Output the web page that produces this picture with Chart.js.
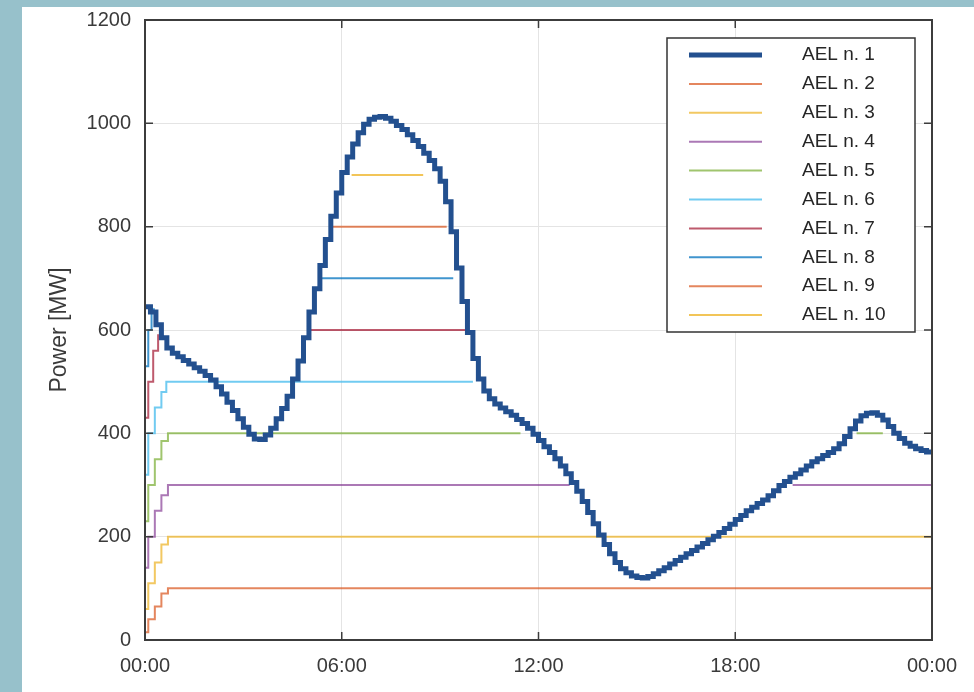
<!DOCTYPE html>
<html><head><meta charset="utf-8">
<script src="https://cdn.jsdelivr.net/npm/chart.js@4.4.1/dist/chart.umd.min.js"></script>
<style>
html,body{margin:0;padding:0;background:#97c1cb;width:974px;height:692px;overflow:hidden}
#panel{position:absolute;left:22px;top:7px;width:952px;height:685px;background:#fff}
canvas{display:block}
</style></head><body>
<div id="panel"><canvas id="c" width="952" height="685"></canvas></div>
<script>
// ---- data (minutes of day, MW) ----
const ael1Minutes = [0,10,20,30,40,50,60,70,80,90,100,110,120,130,140,150,160,170,180,190,200,210,220,230,240,250,260,270,280,290,300,310,320,330,340,350,360,370,380,390,400,410,420,430,440,450,460,470,480,490,500,510,520,530,540,550,560,570,580,590,600,610,620,630,640,650,660,670,680,690,700,710,720,730,740,750,760,770,780,790,800,810,820,830,840,850,860,870,880,890,900,910,920,930,940,950,960,970,980,990,1000,1010,1020,1030,1040,1050,1060,1070,1080,1090,1100,1110,1120,1130,1140,1150,1160,1170,1180,1190,1200,1210,1220,1230,1240,1250,1260,1270,1280,1290,1300,1310,1320,1330,1340,1350,1360,1370,1380,1390,1400,1410,1420,1430,1440];
const ael1Power = [645,635,610,585,565,555,548,541,534,527,520,512,503,490,476,460,444,428,412,398,389,388,397,410,428,448,472,505,540,585,635,680,725,775,820,865,905,935,960,982,998,1008,1012,1013,1010,1004,996,988,978,967,955,942,928,912,888,848,790,720,655,595,545,505,482,467,457,449,442,435,427,419,410,398,386,374,363,351,337,322,305,288,268,247,225,203,185,167,150,138,130,124,121,120,123,128,134,140,147,154,160,167,173,180,187,194,201,208,216,224,233,241,250,257,264,271,279,289,299,307,315,322,329,337,345,351,357,363,370,380,394,409,424,434,439,440,435,426,413,400,390,381,375,370,367,364,362];

// other units: [minute, MW] points, null = unit off
const ael2 = [[0,15],[6,40],[18,65],[30,90],[42,100],[1440,100]];
const ael3 = [[0,60],[6,110],[18,150],[30,185],[42,200],[1440,200]];
const ael4 = [[0,140],[6,200],[18,250],[30,280],[42,300],[777,300],[780,null],[1185,300],[1440,300]];
const ael5 = [[0,230],[6,300],[18,350],[30,385],[42,400],[687,400],[690,null],[1302,400],[1350,400]];
const ael6 = [[0,320],[6,400],[18,450],[30,480],[39,500],[600,500]];
const ael7 = [[0,430],[6,500],[15,560],[24,590],[30,590],[33,null],[298,600],[589,600]];
const ael8 = [[0,530],[6,600],[12,640],[18,640],[21,null],[322,700],[564,700]];
const ael9 = [[344,800],[552,800]];
const ael10 = [[378,900],[509,900]];

const seriesLabels = ['AEL n. 1','AEL n. 2','AEL n. 3','AEL n. 4','AEL n. 5','AEL n. 6','AEL n. 7','AEL n. 8','AEL n. 9','AEL n. 10'];
const xTickMinutes = [0,360,720,1080,1440];
const xTickLabels = ['00:00','06:00','12:00','18:00','00:00'];
const yTickValues = [0,200,400,600,800,1000,1200];

// ---- styles ----
const colors = ['#23508f','rgba(217,83,25,0.7)','rgba(237,177,32,0.7)','rgba(126,47,142,0.65)','rgba(119,172,48,0.7)','rgba(77,190,238,0.8)','rgba(162,20,47,0.7)','rgba(0,114,189,0.75)','rgba(217,83,25,0.7)','rgba(237,177,32,0.75)'];
const FF = "'Liberation Sans', Arial, sans-serif";
const FONT = {family:FF, size:20};
const TXT = '#3a3a3a';

const toPts = arr => arr.map(p => ({x:p[0], y:p[1]}));
const others = [ael2,ael3,ael4,ael5,ael6,ael7,ael8,ael9,ael10];
const datasets = [{
  label: seriesLabels[0],
  data: ael1Minutes.map((m,i)=>({x:m,y:ael1Power[i]})),
  borderColor: colors[0], borderWidth: 5, stepped: true, pointRadius:0
}].concat(others.map((a,i)=>({
  label: seriesLabels[i+1], data: toPts(a), borderColor: colors[i+1], borderWidth: 2,
  stepped: true, pointRadius: 0, spanGaps: false
})));

const boxPlugin = {
  id:'box',
  afterDraw(chart){
    const {ctx, chartArea:a, scales:{x,y}} = chart;
    ctx.save();
    ctx.strokeStyle = '#3c3c3c'; ctx.lineWidth = 2;
    ctx.strokeRect(a.left, a.top, a.right-a.left, a.bottom-a.top);
    ctx.lineWidth = 1.5;
    ctx.beginPath();
    x.ticks.forEach(t=>{const px=x.getPixelForValue(t.value);
      ctx.moveTo(px,a.bottom); ctx.lineTo(px,a.bottom-8);
      ctx.moveTo(px,a.top); ctx.lineTo(px,a.top+8);});
    y.ticks.forEach(t=>{const py=y.getPixelForValue(t.value);
      ctx.moveTo(a.left,py); ctx.lineTo(a.left+8,py);
      ctx.moveTo(a.right,py); ctx.lineTo(a.right-8,py);});
    ctx.stroke();
    // legend
    const w=248, h=294;
    const lx = a.right-17-w, ly = a.top+18;
    ctx.fillStyle='#fff'; ctx.fillRect(lx,ly,w,h);
    ctx.strokeStyle='#333'; ctx.lineWidth=1.5; ctx.strokeRect(lx,ly,w,h);
    ctx.font = `19px ${FF}`;
    ctx.textBaseline='middle'; ctx.textAlign='left';
    chart.data.datasets.forEach((ds,i)=>{
      const cy = ly+17+i*28.9;
      ctx.strokeStyle = ds.borderColor; ctx.lineWidth = ds.borderWidth;
      ctx.beginPath(); ctx.moveTo(lx+22,cy); ctx.lineTo(lx+95,cy); ctx.stroke();
      ctx.fillStyle='#262626'; ctx.fillText(ds.label, lx+135, cy);
    });
    ctx.restore();
  }
};

new Chart(document.getElementById('c'), {
  type:'line',
  data:{datasets},
  options:{
    responsive:false, animation:false, devicePixelRatio:1,
    layout:{padding:{left:0,top:0,right:42,bottom:0}},
    plugins:{legend:{display:false}, tooltip:{enabled:false}},
    elements:{point:{radius:0}, line:{tension:0}},
    scales:{
      x:{type:'linear', min:0, max:1440,
        afterFit(s){s.height=52;},
        afterBuildTicks(s){s.ticks = xTickMinutes.map(v=>({value:v}));},
        ticks:{callback:(v,i)=>xTickLabels[i], font:FONT, color:TXT, padding:14, maxRotation:0, autoSkip:false},
        grid:{color:'#e4e4e4', drawTicks:false}, border:{display:false}},
      y:{min:0, max:1200,
        afterFit(s){s.width=123; s.paddingTop=13; s.paddingBottom=0;},
        afterBuildTicks(s){s.ticks = yTickValues.map(v=>({value:v}));},
        ticks:{callback:v=>String(v), font:FONT, color:TXT, padding:14},
        title:{display:true, text:'Power [MW]', font:{family:FF,size:23}, color:TXT, padding:{top:24,bottom:0}},
        grid:{color:'#e4e4e4', drawTicks:false}, border:{display:false}}
    }
  },
  plugins:[boxPlugin]
});
</script></body></html>
